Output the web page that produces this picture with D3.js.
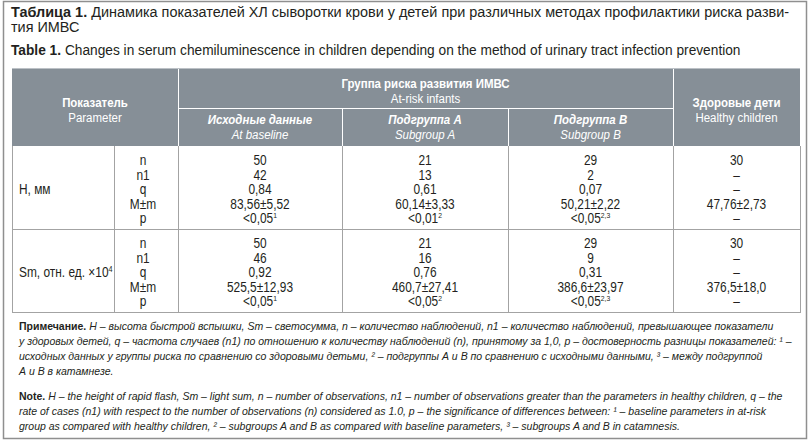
<!DOCTYPE html>
<html>
<head>
<meta charset="utf-8">
<script src="https://cdn.jsdelivr.net/npm/d3@7"></script>
<style>
  body { margin: 0; background: #fff; }
  svg { display: block; }
</style>
</head>
<body>
<svg width="811" height="444"></svg>
<script>
// --- данные таблицы ---
const captionRu = ["Таблица 1.", " Динамика показателей ХЛ сыворотки крови у детей при различных методах профилактики риска разви-"];
const captionRu2 = "тия ИМВС";
const captionEn = ["Table 1.", " Changes in serum chemiluminescence in children depending on the method of urinary tract infection prevention"];

const headParam = ["Показатель", "Parameter"];
const headGroup = ["Группа риска развития ИМВС", "At-risk infants"];
const headHealthy = ["Здоровые дети", "Healthy children"];
const subgroups = [
  ["Исходные данные", "At baseline"],
  ["Подгруппа А", "Subgroup A"],
  ["Подгруппа В", "Subgroup B"]
];

const params = ["H, мм", "Sm, отн. ед. ×10"];
const paramSup = ["", "4"];
const statLabels = ["n", "n1", "q", "M±m", "p"];

// значения: [исходные, подгруппа A, подгруппа B, здоровые]
const valuesH = [
  ["50", "42", "0,84", "83,56±5,52", "<0,05"],
  ["21", "13", "0,61", "60,14±3,33", "<0,01"],
  ["29", "2", "0,07", "50,21±2,22", "<0,05"],
  ["30", "–", "–", "47,76±2,73", "–"]
];
const valuesSm = [
  ["50", "46", "0,92", "525,5±12,93", "<0,05"],
  ["21", "16", "0,76", "460,7±27,41", "<0,05"],
  ["29", "9", "0,31", "386,6±23,97", "<0,05"],
  ["30", "–", "–", "376,5±18,0", "–"]
];
const pSup = ["1", "2", "2,3", ""];

const notesRu = [
  [["Примечание.", "b"], [" H – высота быстрой вспышки, Sm – светосумма, n – количество наблюдений, n1 – количество наблюдений, превышающее показатели", "i"]],
  [["у здоровых детей, q – частота случаев (n1) по отношению к количеству наблюдений (n), принятому за 1,0, p – достоверность разницы показателей: ¹ –", "i"]],
  [["исходных данных у группы риска по сравнению со здоровыми детьми, ² – подгруппы А и В по сравнению с исходными данными, ³ – между подгруппой", "i"]],
  [["А и В в катамнезе.", "i"]]
];
const notesEn = [
  [["Note.", "b"], [" H – the height of rapid flash, Sm – light sum,  n – number of observations, n1 – number of observations greater than the parameters in healthy children, q – the", "i"]],
  [["rate of cases (n1) with respect to the number of observations (n) considered as 1.0, p – the significance of differences between: ¹ – baseline parameters in at-risk", "i"]],
  [["group as compared with healthy children, ² – subgroups A and B as compared with baseline parameters, ³ – subgroups A and B in catamnesis.", "i"]]
];

// --- раскладка ---
const svg = d3.select("svg");
const font = "'Liberation Sans', Arial, Helvetica, sans-serif";
const SX = 0.85; // сжатие по горизонтали (узкий шрифт)
const headFill = "#868f97";
const gridCol = "#a3a3a3";
const ink = "#231f20";

// границы колонок таблицы
const edges = [12, 114, 178, 342, 508, 673, 800];
const tableTop = 69, headMid = 108, headBottom = 146, tableBottom = 312;

const rowY = d3.scaleBand().domain(params).range([headBottom, tableBottom]);
const lineY = d3.scalePoint().domain(statLabels).range([14, 72]);
const colMid = i => (edges[i] + edges[i + 1]) / 2;

// узкий текст: Liberation Sans, сжатый трансформацией
function ntext(parent, x, y, size, anchor = "start", sx = SX) {
  return parent.append("text")
    .attr("transform", `translate(${x},${y}) scale(${sx},1)`)
    .attr("text-anchor", anchor)
    .style("font-family", font)
    .style("font-size", size + "px")
    .attr("fill", ink);
}

// рамка
svg.append("rect")
  .attr("x", 3.5).attr("y", 1.5).attr("width", 803).attr("height", 437)
  .attr("fill", "none").attr("stroke", "#8f8f8f").attr("stroke-width", 1.5);

// заголовок (подгоняется по ширине строки)
function capLine(y, parts, width, sxFixed) {
  const t = ntext(svg, 11, y, 14.5, "start", 1);
  parts.forEach((p, i) => t.append("tspan").style("font-weight", i === 0 && parts.length > 1 ? 700 : 400).text(p));
  const sx = sxFixed || width / t.node().getComputedTextLength();
  t.attr("transform", `translate(11,${y}) scale(${sx},1)`);
  return sx;
}
const capSx = capLine(17, captionRu, 779);
capLine(32, [captionRu2], 0, capSx);
capLine(55, captionEn, 730);

// шапка
const head = svg.append("g");
head.append("rect")
  .attr("x", edges[0]).attr("y", tableTop)
  .attr("width", edges[6] - edges[0]).attr("height", headBottom - tableTop)
  .attr("fill", headFill);
head.append("line")
  .attr("x1", edges[0]).attr("x2", edges[6]).attr("y1", tableTop - 0.5).attr("y2", tableTop - 0.5)
  .attr("stroke", "#bcc1c6");

const white = "#fff";
const vline = (x, y1, y2) => head.append("line")
  .attr("x1", x).attr("x2", x).attr("y1", y1).attr("y2", y2).attr("stroke", white);
vline(edges[2] + 0.5, tableTop, headBottom);
vline(edges[5] + 0.5, tableTop, headBottom);
vline(edges[3] + 0.5, headMid, headBottom);
vline(edges[4] + 0.5, headMid, headBottom);
head.append("line")
  .attr("x1", edges[2]).attr("x2", edges[5]).attr("y1", headMid + 0.5).attr("y2", headMid + 0.5)
  .attr("stroke", white);

function headText(x, y, pair, italic) {
  const t = ntext(head, x, y, 13.5, "middle")
    .attr("fill", white)
    .style("font-style", italic ? "italic" : "normal");
  t.append("tspan").attr("x", 0).attr("y", 0).style("font-weight", 700).text(pair[0]);
  t.append("tspan").attr("x", 0).attr("y", 15).style("font-weight", 400).text(pair[1]);
}
headText((edges[0] + edges[2]) / 2, 107, headParam, false);
headText((edges[2] + edges[5]) / 2, 88, headGroup, false);
headText(colMid(5), 107, headHealthy, false);
subgroups.forEach((s, i) => headText(colMid(i + 2), 124, s, true));

// тело таблицы
const body = svg.append("g");
const allValues = [valuesH, valuesSm];
const bodySize = 14;

params.forEach((p, r) => {
  const top = rowY(p);
  const g = body.append("g").attr("transform", `translate(0,${top})`);

  const lbl = ntext(g, 19, lineY("q") + 5, bodySize);
  lbl.append("tspan").text(p);
  if (paramSup[r]) lbl.append("tspan").attr("dy", -5).style("font-size", "8.5px").text(paramSup[r]);

  g.selectAll("text.stat")
    .data(statLabels)
    .enter()
    .append("text")
    .attr("class", "stat")
    .attr("transform", d => `translate(${colMid(1) - 3},${lineY(d) + 5}) scale(${SX},1)`)
    .attr("text-anchor", "middle")
    .style("font-family", font).style("font-size", bodySize + "px").attr("fill", ink)
    .text(d => d);

  allValues[r].forEach((col, c) => {
    g.selectAll(`text.v${c}`)
      .data(col)
      .enter()
      .append("text")
      .attr("class", `v${c}`)
      .attr("transform", (d, i) => `translate(${colMid(c + 2)},${lineY(statLabels[i]) + 5}) scale(${SX},1)`)
      .attr("text-anchor", "middle")
      .style("font-family", font).style("font-size", bodySize + "px").attr("fill", ink)
      .each(function (d, i) {
        const t = d3.select(this);
        t.append("tspan").text(d);
        if (statLabels[i] === "p" && pSup[c]) {
          t.append("tspan").attr("dy", -5).style("font-size", "8px").text(pSup[c]);
        }
      });
  });
});

// сетка тела
const gl = body.append("g").attr("stroke", gridCol).attr("stroke-width", 1);
params.forEach(p => {
  gl.append("line").attr("x1", edges[0]).attr("x2", edges[6])
    .attr("y1", rowY(p) + rowY.bandwidth() + 0.5).attr("y2", rowY(p) + rowY.bandwidth() + 0.5);
});
edges.forEach(x => {
  gl.append("line").attr("x1", x + 0.5).attr("x2", x + 0.5)
    .attr("y1", headBottom).attr("y2", tableBottom + 1);
});

// примечания
function noteLines(lines, y0) {
  lines.forEach((segs, i) => {
    const t = svg.append("text").attr("x", 19).attr("y", y0 + i * 15)
      .style("font-family", font).style("font-size", "10.5px").attr("fill", ink);
    segs.forEach(([s, k]) => t.append("tspan")
      .style("font-weight", k === "b" ? 700 : 400)
      .style("font-style", k === "i" ? "italic" : "normal")
      .text(s));
  });
}
noteLines(notesRu, 330);
noteLines(notesEn, 400);
</script>
</body>
</html>
